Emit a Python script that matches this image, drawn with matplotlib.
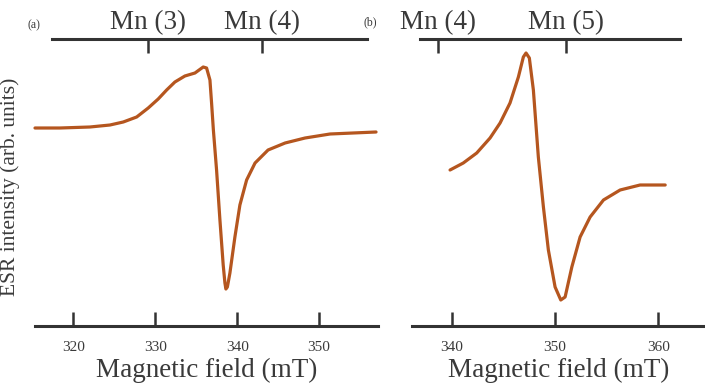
import matplotlib
matplotlib.use("Agg")
import matplotlib.pyplot as plt

plt.rcParams['font.family'] = ['Liberation Serif', 'DejaVu Serif']

# panel (a) spectrum
field_a = [315.30, 318.35, 322.01, 324.46, 326.08, 327.72, 329.13, 330.35, 331.38,
           332.39, 333.61, 334.84, 335.85, 336.26, 336.67, 336.87, 337.09, 337.48,
           337.89, 338.29, 338.50, 338.62, 338.80, 339.11, 339.72, 340.33, 341.15,
           342.18, 343.77, 345.85, 348.29, 351.34, 356.96]
esr_a = [198, 198, 199, 201, 204, 209, 218, 227, 236,
         244, 250, 253, 259, 258, 246, 223, 196, 156,
         106, 61, 43, 37, 39, 53, 89, 121, 146,
         163, 176, 183, 188, 192, 194]

# panel (b) spectrum
field_b = [339.84, 341.12, 342.42, 343.71, 344.68, 345.64, 346.45, 346.93, 347.19,
           347.51, 347.90, 348.38, 348.87, 349.35, 350.00, 350.55, 350.97, 351.62,
           352.42, 353.39, 354.68, 356.29, 358.22, 360.65]
esr_b = [156, 163, 173, 188, 203, 223, 249, 269, 273,
         268, 236, 169, 119, 76, 39, 26, 29, 59,
         89, 109, 126, 136, 141, 141]

ticks_a = [320, 330, 340, 350]
ticks_b = [340, 350, 360]
mn_pos_a = [329.06, 343.05]
mn_lab_a = ['Mn (3)', 'Mn (4)']
mn_pos_b = [338.7, 351.06]
mn_lab_b = ['Mn (4)', 'Mn (5)']

line_col = '#b5561f'
ax_col = '#333333'
txt_col = '#3a3a3a'

W, H = 705, 388
fig = plt.figure(figsize=(W / 100, H / 100), dpi=100)

y_top, y_bot = 38.5, 326


def make_panel(x0, x1, xlim, bot_bounds, top_bounds, field, esr, ticks, mn_pos, mn_lab, tag, tag_xy):
    ax = fig.add_axes([x0 / W, (H - y_bot) / H, (x1 - x0) / W, (y_bot - y_top) / H])
    ax.plot(field, esr, color=line_col, lw=2.3, solid_joinstyle='round',
            solid_capstyle='round', clip_on=False)
    ax.set_xlim(*xlim)
    ax.set_ylim(0, y_bot - y_top)
    for s in ['left', 'right', 'top']:
        ax.spines[s].set_visible(False)
    ax.spines['bottom'].set_bounds(*bot_bounds)
    ax.spines['bottom'].set_linewidth(2.2)
    ax.spines['bottom'].set_color(ax_col)
    ax.set_yticks([])
    ax.set_xticks(ticks)
    ax.tick_params(axis='x', direction='in', length=10, width=1.8, color=ax_col,
                   labelsize=11, labelcolor=txt_col, pad=11)
    ax.set_xlabel('Magnetic field (mT)', fontsize=19.5, color=txt_col, labelpad=2.5)

    top = ax.twiny()
    top.set_xlim(*xlim)
    for s in ['left', 'right', 'bottom']:
        top.spines[s].set_visible(False)
    top.spines['top'].set_bounds(*top_bounds)
    top.spines['top'].set_linewidth(2.2)
    top.spines['top'].set_color(ax_col)
    top.set_xticks(mn_pos)
    top.set_xticklabels(mn_lab)
    top.tick_params(axis='x', direction='in', length=10, width=1.8, color=ax_col,
                    labelsize=19.5, labelcolor=txt_col, pad=2.5)
    fig.text(tag_xy[0] / W, 1 - tag_xy[1] / H, tag, fontsize=8.5, color=txt_col,
             ha='center', va='center')
    return ax


make_panel(35, 378, (315.3, 357.2), (315.3, 357.2), (317.4, 355.9),
           field_a, esr_a, ticks_a, mn_pos_a, mn_lab_a, '(a)', (34, 25))
make_panel(412, 705, (336.16, 364.5), (336.16, 364.5), (336.9, 362.1),
           field_b, esr_b, ticks_b, mn_pos_b, mn_lab_b, '(b)', (370, 22))

fig.text(10.5 / W, 1 - 187 / H, 'ESR intensity (arb. units)', rotation=90, fontsize=15.5,
         color=txt_col, ha='center', va='center')

fig.savefig('out.png', dpi=100)
